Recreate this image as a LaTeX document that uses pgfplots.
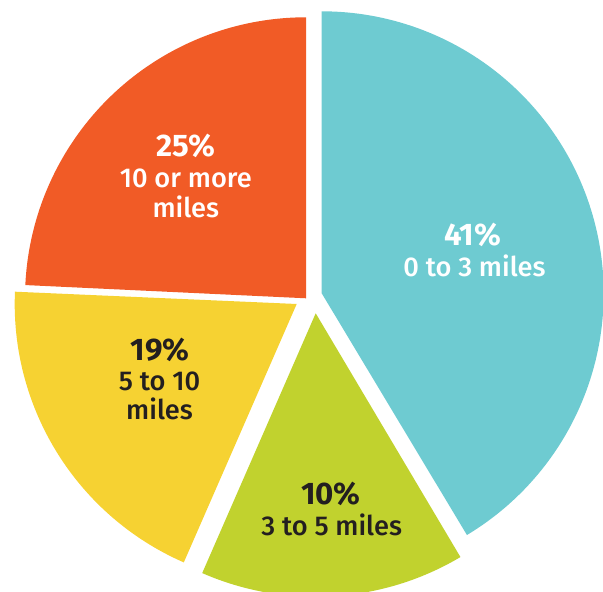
\documentclass[border=0pt]{standalone}
\usepackage{fontspec}
\setmainfont{Fira Sans}
\newfontfamily\medfont{Fira Sans Medium}
\usepackage{pgfplots}
\pgfplotsset{compat=1.18}
\definecolor{cyanc}{RGB}{110,203,209}
\definecolor{greenc}{RGB}{193,210,46}
\definecolor{yellowc}{RGB}{246,210,50}
\definecolor{orangec}{RGB}{241,91,38}
\definecolor{darkt}{RGB}{35,31,32}
\begin{document}
\begin{tikzpicture}
\begin{axis}[
  width=301.5pt, height=296pt, scale only axis,
  xmin=0, xmax=603, ymin=0, ymax=592,
  hide axis, clip=true,
  every axis plot/.append style={draw=none, samples=120, variable=\t},
]
% 0 to 3 miles (drawn span -59 to 90 deg)
\addplot[fill=cyanc, domain=-59:90] ({321.7+282*cos(t)},{298.7+282*sin(t)}) -- (321.7,298.7) -- cycle;
% 3 to 5 miles (246.4 to 300.7 deg)
\addplot[fill=greenc, domain=246.4:300.7] ({315.7+283.5*cos(t)},{278.7+283.5*sin(t)}) -- (315.7,278.7) -- cycle;
% 5 to 10 miles (177.5 to 246.4 deg)
\addplot[fill=yellowc, domain=177.5:246.4] ({296.7+282*cos(t)},{288+282*sin(t)}) -- (296.7,288) -- cycle;
% 10 or more miles (90 to 177.3 deg)
\addplot[fill=orangec, domain=90:177.3] ({306+281*cos(t)},{293.7+281*sin(t)}) -- (306,293.7) -- cycle;

\tikzset{lb/.style={anchor=base, inner sep=0pt, font=\fontsize{15.6}{18}\selectfont\bfseries},
         lt/.style={anchor=base, inner sep=0pt, font=\fontsize{13.6}{16}\selectfont\medfont}}
\node[lb, white] at (axis cs:472.5,346.3) {41\%};
\node[lt, white] at (axis cs:474.5,315.3) {0 to 3 miles};
\node[lb, white] at (axis cs:185.8,435.3) {25\%};
\node[lt, white] at (axis cs:185.8,404) {10 or more};
\node[lt, white] at (axis cs:185.8,374) {miles};
\node[lb, darkt] at (axis cs:160.3,231) {19\%};
\node[lt, darkt] at (axis cs:159.5,201) {5 to 10};
\node[lt, darkt] at (axis cs:159.5,172) {miles};
\node[lb, darkt] at (axis cs:331,87) {10\%};
\node[lt, darkt] at (axis cs:331.7,56.3) {3 to 5 miles};
\end{axis}
\pgfresetboundingbox
\path (current axis.south west) rectangle (current axis.north east);
\end{tikzpicture}
\end{document}
